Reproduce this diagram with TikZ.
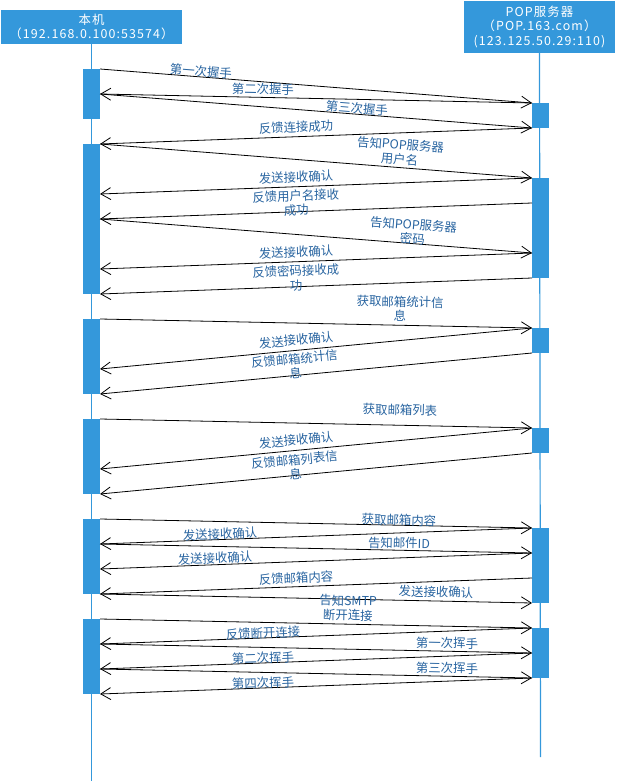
\documentclass[tikz,border=0pt]{standalone}
\usepackage{fontspec}
\setmainfont{Noto Sans CJK SC}
\newfontfamily\headfont[LetterSpace=9]{Noto Sans CJK SC}
\usetikzlibrary{arrows.meta}

\definecolor{barblue}{RGB}{52,152,219}
\definecolor{textblue}{RGB}{40,100,160}

\begin{document}
\begin{tikzpicture}[x=1pt, y=-1pt,
    head/.style={fill=barblue, text=white, align=center, inner sep=0pt,
        font=\headfont\fontsize{12.4}{14.5}\selectfont},
    life/.style={barblue, line width=1.2pt},
    act/.style={fill=barblue},
    msg/.style={black, line width=0.8pt, -{Straight Barb[length=10pt, width=12pt]}},
    lbl/.style={text=textblue, align=center, inner sep=0pt,
        font=\fontsize{12.4}{14.5}\selectfont}]

        \useasboundingbox (0,0) rectangle (617,781);

        % ==== HEADERS ====
        \node[head, minimum width=181pt, minimum height=34pt] (host) at (91.5,27)
            {本机\\（192.168.0.100:53574）};
        \node[head, minimum width=151pt, minimum height=52pt] (server) at (539.5,27)
            {POP服务器\\（POP.163.com）\\(123.125.50.29:110)};

        % ==== LIFELINES ====
        \coordinate (hostend) at (91.5,781);
        \coordinate (serverend) at (540.5,757);
        \draw[life] (host.south) -- (hostend);
        \draw[life] (server.south) -- (serverend);

        % ==== MESSAGE POINTS ====
        \foreach \k in {0,...,25}
            \coordinate (l\k) at (100,69+25*\k);
        \foreach \k in {0,...,23}
            \coordinate (r\k) at (532,103+25*\k);

        % ==== ACTIVATIONS ====
        \foreach \a/\b in {0/2,3/9,10/13,14/17,18/21,22/25}
            \fill[act] ([xshift=-17pt]l\a) rectangle (l\b);
        \foreach \a/\b in {0/1,3/7,9/10,13/14,17/20,21/23}
            \fill[act] (r\a) rectangle ([xshift=17pt]r\b);

        % ==== MESSAGES ====
        \foreach \s/\e in {l0/r0,r0/l1,l1/r1,r1/l3,l3/r3,r3/l5,r4/l6,l6/r6,r6/l8,r7/l9,
                           l10/r9,r9/l12,r10/l13,l14/r13,r13/l16,r14/l17,
                           l18/r17,r17/l19,l19/r18,r18/l20,r19/l21,l21/r20,
                           l22/r21,r21/l23,l23/r22,r22/l24,l24/r23,r23/l25}
            \draw[msg] (\s) -- (\e);

        % ==== LABELS: CONNECT ====
        \node[lbl, rotate=-4.5] (t1) at (201,71) {第一次握手};
        \node[lbl, rotate=-1.2] (t2) at (263,89) {第二次握手};
        \node[lbl, rotate=-4.5] (t3) at (357,108) {第三次握手};
        \node[lbl, rotate=2.1] (t4) at (296,127) {反馈连接成功};

        % ==== LABELS: LOGIN ====
        \node[lbl, rotate=-4.5] (t5) at (400,152) {告知POP服务器\\用户名};
        \node[lbl, rotate=2.1] (t6) at (296,177) {发送接收确认};
        \node[lbl, rotate=2.1] (t7) at (296,203) {反馈用户名接收\\成功};
        \node[lbl, rotate=-4.5] (t8) at (413,232) {告知POP服务器\\密码};
        \node[lbl, rotate=2.1] (t9) at (296,252) {发送接收确认};
        \node[lbl, rotate=2.1] (t10) at (296,278) {反馈密码接收成\\功};

        % ==== LABELS: STAT / LIST ====
        \node[lbl, rotate=-1.2] (t11) at (400,309) {获取邮箱统计信\\息};
        \node[lbl, rotate=5.4] (t12) at (296,340) {发送接收确认};
        \node[lbl, rotate=5.4] (t13) at (295,366) {反馈邮箱统计信\\息};
        \node[lbl, rotate=-1.2] (t14) at (400,410) {获取邮箱列表};
        \node[lbl, rotate=5.4] (t15) at (296,440) {发送接收确认};
        \node[lbl, rotate=5.4] (t16) at (295,467) {反馈邮箱列表信\\息};

        % ==== LABELS: RETR ====
        \node[lbl, rotate=-1.2] (t17) at (399,520) {获取邮箱内容};
        \node[lbl, rotate=2.1] (t18) at (220,534) {发送接收确认};
        \node[lbl, rotate=-1.2] (t19) at (399,543) {告知邮件ID};
        \node[lbl, rotate=2.1] (t20) at (215,558) {发送接收确认};
        \node[lbl, rotate=2.1] (t21) at (296,578) {反馈邮箱内容};
        \node[lbl, rotate=-1.2] (t22) at (436,592) {发送接收确认};

        % ==== LABELS: QUIT ====
        \node[lbl, rotate=-1.2] (t23) at (348,608) {告知SMTP\\断开连接};
        \node[lbl, rotate=2.1] (t24) at (263,633) {反馈断开连接};
        \node[lbl, rotate=-1.2] (t25) at (447,643) {第一次挥手};
        \node[lbl, rotate=2.1] (t26) at (263,658) {第二次挥手};
        \node[lbl, rotate=-1.2] (t27) at (447,668) {第三次挥手};
        \node[lbl, rotate=2.1] (t28) at (263,683) {第四次挥手};

    \end{tikzpicture}
\end{document}
